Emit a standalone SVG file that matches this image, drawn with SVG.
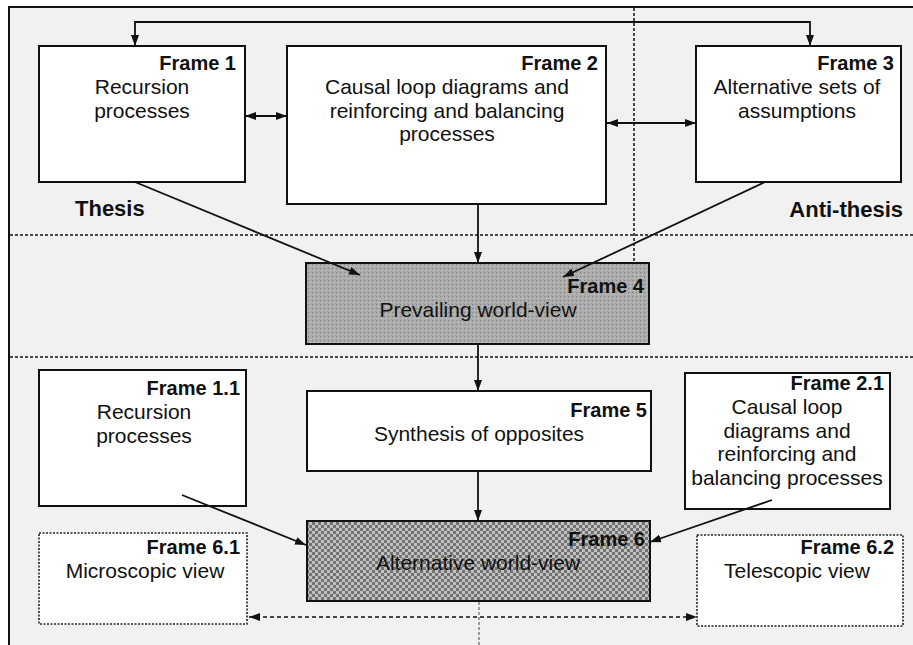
<svg xmlns="http://www.w3.org/2000/svg" width="913" height="645" viewBox="0 0 913 645">
  <style>
    .box { fill: #ffffff; stroke: #111111; stroke-width: 2; }
    .dotbox { fill: #ffffff; stroke: #222222; stroke-width: 1.6; stroke-dasharray: 2 1.5; }
    .title { font-family: "Liberation Sans", Arial, sans-serif; font-weight: bold; font-size: 20px; fill: #111111; text-anchor: end; }
    .body { font-family: "Liberation Sans", Arial, sans-serif; font-size: 21px; fill: #111111; text-anchor: middle; }
    .zone { font-family: "Liberation Sans", Arial, sans-serif; font-weight: bold; font-size: 22px; fill: #111111; }
    .link { fill: none; stroke: #111111; stroke-width: 1.8; }
    .dashlink { fill: none; stroke: #111111; stroke-width: 1.6; stroke-dasharray: 4 3; }
    .divider { fill: none; stroke: #111111; stroke-width: 1.5; stroke-dasharray: 3 2; }
  </style>
  <defs>
    <marker id="arrow" viewBox="0 0 11 8" refX="11" refY="4" markerWidth="11" markerHeight="8" markerUnits="userSpaceOnUse" orient="auto-start-reverse">
      <path d="M0,0 L11,4 L0,8 z" fill="#111111"/>
    </marker>
    <pattern id="prevailing" width="4" height="4" patternUnits="userSpaceOnUse">
      <rect width="4" height="4" fill="#ababab"/>
      <rect width="1" height="1" fill="#808080"/>
      <rect x="2" y="2" width="1" height="1" fill="#cfcfcf"/>
    </pattern>
    <pattern id="alternative" width="6" height="6" patternUnits="userSpaceOnUse">
      <rect width="6" height="6" fill="#c0c0c0"/>
      <rect width="3" height="3" fill="#727272"/>
      <rect x="3" y="3" width="3" height="3" fill="#727272"/>
    </pattern>
  </defs>

  <!-- page background and outer frame -->
  <rect x="0" y="0" width="913" height="645" fill="#ffffff"/>
  <rect x="9" y="7" width="904" height="638" fill="#f1f1f1"/>
  <path d="M9,645 V7 H913" fill="none" stroke="#111111" stroke-width="2"/>

  <!-- zone dividers -->
  <g id="dividers">
    <path class="divider" d="M10,235 H913"/>
    <path class="divider" d="M10,357 H913"/>
    <path class="divider" d="M634,8 V263"/>
    <path class="divider" d="M479,602 V645" stroke-opacity="0.5"/>
  </g>

  <!-- zone labels -->
  <text id="thesis" class="zone" x="75" y="216">Thesis</text>
  <text id="antithesis" class="zone" x="903" y="217" text-anchor="end">Anti-thesis</text>

  <g id="frame1">
    <rect class="box" x="39" y="46" width="206" height="136"/>
    <text class="title" x="236" y="70">Frame 1</text>
    <text class="body" x="142" y="94">Recursion</text>
    <text class="body" x="142" y="117.5">processes</text>
  </g>

  <g id="frame2">
    <rect class="box" x="287" y="46" width="319" height="158"/>
    <text class="title" x="598" y="70">Frame 2</text>
    <text class="body" x="447" y="94">Causal loop diagrams and</text>
    <text class="body" x="447" y="117.5">reinforcing and balancing</text>
    <text class="body" x="447" y="141">processes</text>
  </g>

  <g id="frame3">
    <rect class="box" x="696" y="46" width="205" height="136"/>
    <text class="title" x="894" y="70">Frame 3</text>
    <text class="body" x="797" y="94">Alternative sets of</text>
    <text class="body" x="797" y="117.5">assumptions</text>
  </g>

  <g id="frame4">
    <rect x="306" y="263" width="343" height="81" fill="url(#prevailing)" stroke="#111111" stroke-width="2"/>
    <text class="title" x="644" y="293">Frame 4</text>
    <text class="body" x="478" y="317">Prevailing world-view</text>
  </g>

  <g id="frame1-1">
    <rect class="box" x="39" y="370" width="207" height="136"/>
    <text class="title" x="240" y="395">Frame 1.1</text>
    <text class="body" x="144" y="419">Recursion</text>
    <text class="body" x="144" y="442.5">processes</text>
  </g>

  <g id="frame5">
    <rect class="box" x="307" y="391" width="344" height="80"/>
    <text class="title" x="647" y="417">Frame 5</text>
    <text class="body" x="479" y="441">Synthesis of opposites</text>
  </g>

  <g id="frame2-1">
    <rect class="box" x="685" y="373" width="205" height="136"/>
    <text class="title" x="884" y="390">Frame 2.1</text>
    <text class="body" x="787" y="414">Causal loop</text>
    <text class="body" x="787" y="437.5">diagrams and</text>
    <text class="body" x="787" y="461">reinforcing and</text>
    <text class="body" x="787" y="484.5">balancing processes</text>
  </g>

  <g id="frame6">
    <rect x="307" y="521" width="343" height="80" fill="url(#alternative)" stroke="#111111" stroke-width="2"/>
    <text class="title" x="645" y="546">Frame 6</text>
    <text class="body" x="478" y="570">Alternative world-view</text>
  </g>

  <g id="frame6-1">
    <rect class="dotbox" x="39" y="533" width="208" height="91"/>
    <text class="title" x="240" y="554">Frame 6.1</text>
    <text class="body" x="145" y="578">Microscopic view</text>
  </g>

  <g id="frame6-2">
    <rect class="dotbox" x="697" y="535" width="206" height="91"/>
    <text class="title" x="894" y="554">Frame 6.2</text>
    <text class="body" x="797" y="578">Telescopic view</text>
  </g>

  <!-- connectors -->
  <g id="connectors">
    <path class="link" d="M135,46 V22 H810 V46" marker-start="url(#arrow)" marker-end="url(#arrow)"/>
    <path class="link" d="M245,116 H287" marker-start="url(#arrow)" marker-end="url(#arrow)"/>
    <path class="link" d="M607,123 H696" marker-start="url(#arrow)" marker-end="url(#arrow)"/>
    <path class="link" d="M135,182 L360,275" marker-end="url(#arrow)"/>
    <path class="link" d="M478,204 V263" marker-end="url(#arrow)"/>
    <path class="link" d="M765,182 L563,277" marker-end="url(#arrow)"/>
    <path class="link" d="M478,344 V391" marker-end="url(#arrow)"/>
    <path class="link" d="M478,471 V521" marker-end="url(#arrow)"/>
    <path class="link" d="M182,495 L306,545" marker-end="url(#arrow)"/>
    <path class="link" d="M772,500 L650,542" marker-end="url(#arrow)"/>
    <path class="dashlink" d="M249,617 H697" marker-start="url(#arrow)" marker-end="url(#arrow)"/>
  </g>
</svg>
